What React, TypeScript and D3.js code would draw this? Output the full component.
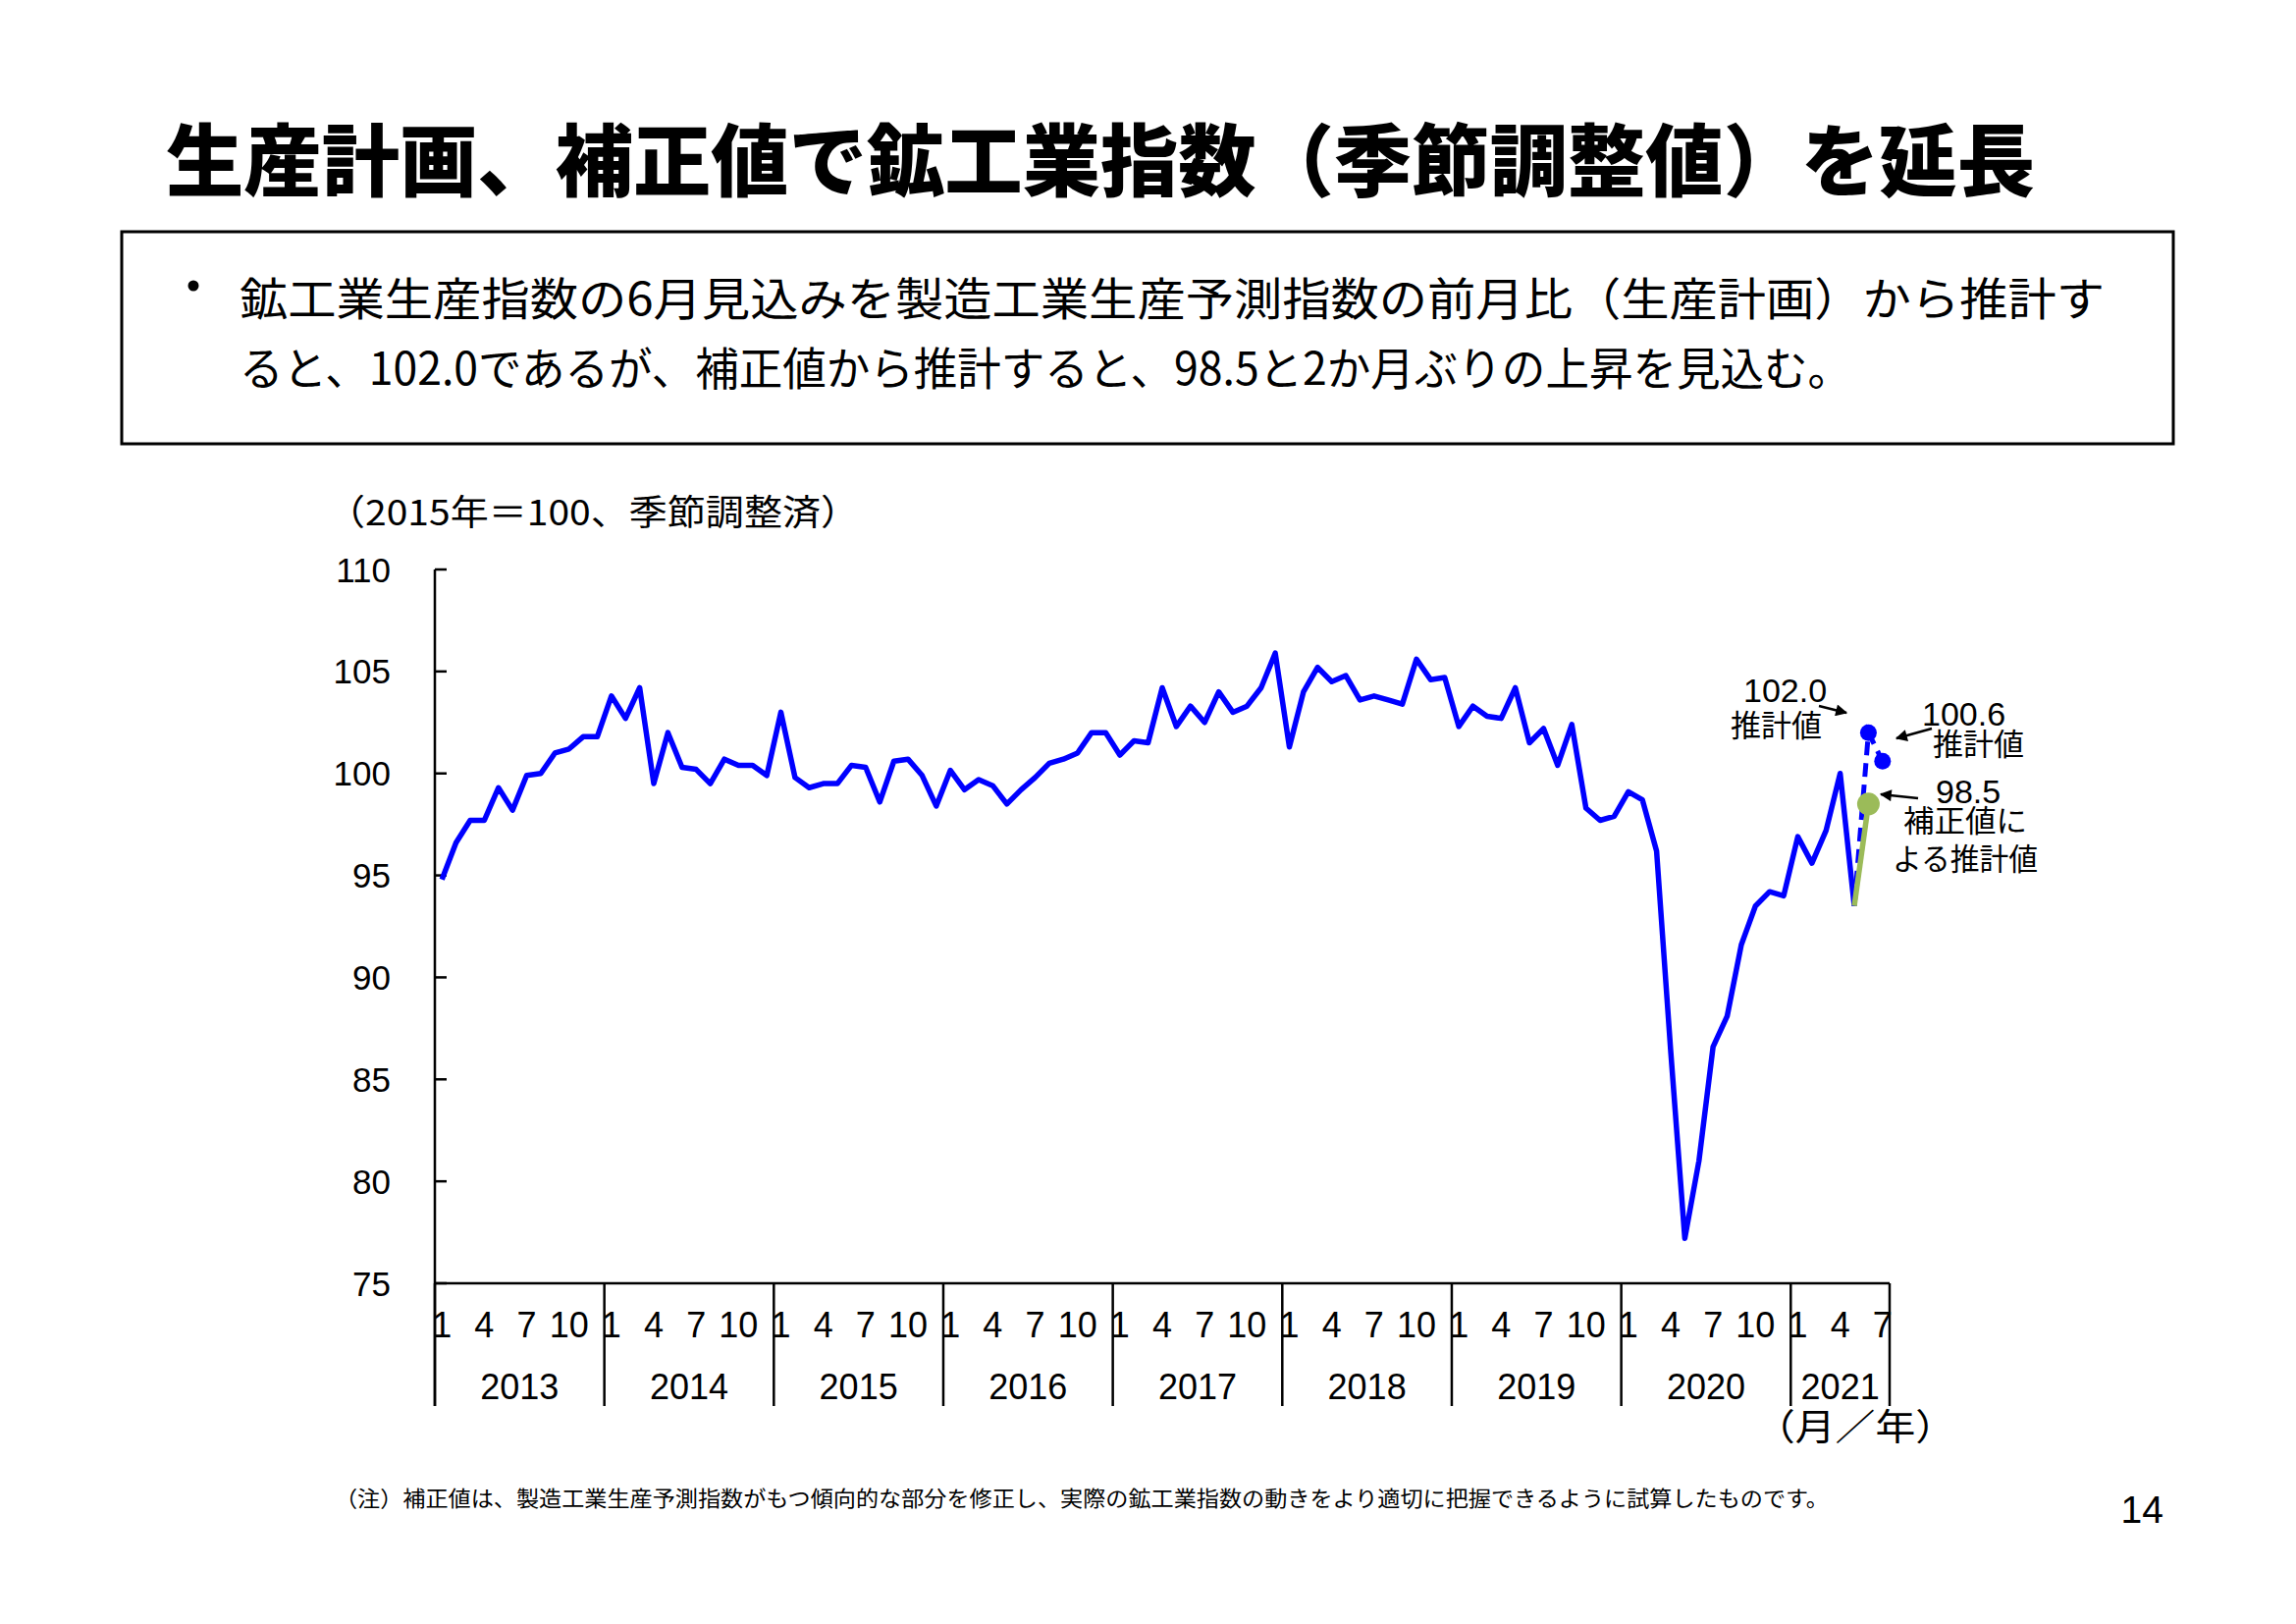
import React from 'react';
import * as d3 from 'd3';

// ---- data ----
const years = ['2013', '2014', '2015', '2016', '2017', '2018', '2019', '2020', '2021'];
const monthTicks = [1, 4, 7, 10];
const yTicks = [75, 80, 85, 90, 95, 100, 105, 110];
// Mining & manufacturing index (2015=100, s.a.), Jan 2013 – May 2021
const actual = [
  94.8, 96.6, 97.7, 97.7, 99.3, 98.2, 99.9, 100.0, 101.0, 101.2, 101.8, 101.8,
  103.8, 102.7, 104.2, 99.5, 102.0, 100.3, 100.2, 99.5, 100.7, 100.4, 100.4, 99.9,
  103.0, 99.8, 99.3, 99.5, 99.5, 100.4, 100.3, 98.6, 100.6, 100.7, 99.9, 98.4,
  100.15, 99.2, 99.7, 99.4, 98.5, 99.2, 99.8, 100.5, 100.7, 101.0, 102.0, 102.0,
  100.9, 101.6, 101.5, 104.2, 102.3, 103.3, 102.5, 104.0, 103.0, 103.3, 104.2, 105.9,
  101.3, 104.0, 105.2, 104.5, 104.8, 103.6, 103.8, 103.6, 103.4, 105.6, 104.6, 104.7,
  102.3, 103.3, 102.8, 102.7, 104.2, 101.5, 102.2, 100.4, 102.4, 98.3, 97.7, 97.9,
  99.1, 98.7, 96.2, 86.4, 77.2, 81.0, 86.6, 88.1, 91.6, 93.5, 94.2, 94.0,
  96.9, 95.6, 97.2, 100.0, 93.5,
];
// Estimates from production plan (Jun, Jul 2021)
const planEstimate = [102.0, 100.6];
// Estimate from corrected value (Jun 2021)
const correctedEstimate = [98.5];
const nMonths = 103; // Jan 2013 .. Jul 2021

const title = '生産計画、補正値で鉱工業指数（季節調整値）を延長';
const bodyLine1 = '鉱工業生産指数の6月見込みを製造工業生産予測指数の前月比（生産計画）から推計す';
const bodyLine2 = 'ると、102.0であるが、補正値から推計すると、98.5と2か月ぶりの上昇を見込む。';
const unitLabel = '（2015年＝100、季節調整済）';
const axisUnit = '（月／年）';
const note = '（注）補正値は、製造工業生産予測指数がもつ傾向的な部分を修正し、実際の鉱工業指数の動きをより適切に把握できるように試算したものです。';

const JP = "'Noto Sans CJK JP', 'Noto Sans', sans-serif";
const NUM = "'Liberation Sans', Arial, sans-serif";
const BLUE = '#0000FF';
const GREEN = '#9BBB59';

export default function App() {
  const W = 2339;
  const H = 1654;
  const x = d3.scaleLinear().domain([-0.5, nMonths - 0.5]).range([443, 1925]);
  const y = d3.scaleLinear().domain([75, 110]).range([1307, 580]);
  const line = d3
    .line<[number, number]>()
    .x((d) => x(d[0]))
    .y((d) => y(d[1]));

  const actualPts: [number, number][] = actual.map((v, i) => [i, v]);
  const last = actual.length - 1;
  const planPts: [number, number][] = [
    [last, actual[last]],
    ...planEstimate.map((v, k) => [last + 1 + k, v] as [number, number]),
  ];
  const corrPts: [number, number][] = [
    [last, actual[last]],
    ...correctedEstimate.map((v, k) => [last + 1 + k, v] as [number, number]),
  ];

  const dividers = years.map((_, k) => x(12 * k - 0.5)).concat([x(nMonths - 0.5)]);

  return (
    <svg
      width={W}
      height={H}
      viewBox={`0 0 ${W} ${H}`}
      style={{ position: 'absolute', left: 0, top: 0, background: '#fff' }}
    >
      <defs>
        <marker
          id="arrowHead"
          viewBox="0 0 10 10"
          refX={9}
          refY={5}
          markerUnits="userSpaceOnUse"
          markerWidth={16}
          markerHeight={12}
          orient="auto"
        >
          <path d="M0,0 L10,5 L0,10 z" fill="#000" />
        </marker>
      </defs>
      <rect x={0} y={0} width={W} height={H} fill="#fff" />

      {/* Title */}
      <text
        x={169}
        y={158}
        dominantBaseline="central"
        fontFamily={JP}
        fontWeight={900}
        fontSize={80}
        textLength={1904}
        lengthAdjust="spacingAndGlyphs"
        fill="#000"
      >
        {title}
      </text>

      {/* Text box */}
      <rect x={124} y={236} width={2090} height={216} fill="none" stroke="#000" strokeWidth={3} />
      <circle cx={197} cy={291} r={5.5} fill="#000" />
      <text
        x={244}
        y={301}
        dominantBaseline="central"
        fontFamily={JP}
        fontSize={46}
        textLength={1900}
        lengthAdjust="spacingAndGlyphs"
        fill="#000"
      >
        {bodyLine1}
      </text>
      <text
        x={244}
        y={372}
        dominantBaseline="central"
        fontFamily={JP}
        fontSize={46}
        textLength={1642}
        lengthAdjust="spacingAndGlyphs"
        fill="#000"
      >
        {bodyLine2}
      </text>

      {/* Unit label */}
      <text
        x={333}
        y={519}
        dominantBaseline="central"
        fontFamily={JP}
        fontSize={36}
        textLength={542}
        lengthAdjust="spacingAndGlyphs"
        fill="#000"
      >
        {unitLabel}
      </text>

      {/* Y axis */}
      <line x1={443} x2={443} y1={y(110)} y2={1432} stroke="#000" strokeWidth={2.5} />
      {yTicks.map((t) => (
        <g key={t}>
          <line x1={443} x2={455} y1={y(t)} y2={y(t)} stroke="#000" strokeWidth={2.5} />
          <text
            x={398}
            y={y(t)}
            textAnchor="end"
            dominantBaseline="central"
            fontFamily={NUM}
            fontSize={35}
            fill="#000"
          >
            {t}
          </text>
        </g>
      ))}

      {/* X axis */}
      <line x1={443} x2={x(nMonths - 0.5)} y1={y(75)} y2={y(75)} stroke="#000" strokeWidth={2.5} />
      {dividers.map((dx, k) => (
        <line key={k} x1={dx} x2={dx} y1={y(75)} y2={1432} stroke="#000" strokeWidth={2.5} />
      ))}
      {years.map((yr, k) =>
        monthTicks
          .filter((m) => 12 * k + m - 1 < nMonths)
          .map((m) => (
            <text
              key={`${yr}-${m}`}
              x={x(12 * k + m - 1)}
              y={1349}
              textAnchor="middle"
              dominantBaseline="central"
              fontFamily={NUM}
              fontSize={36}
              fill="#000"
            >
              {m}
            </text>
          ))
      )}
      {years.map((yr, k) => {
        const x0 = dividers[k];
        const x1 = dividers[k + 1];
        return (
          <text
            key={yr}
            x={(x0 + x1) / 2}
            y={1412}
            textAnchor="middle"
            dominantBaseline="central"
            fontFamily={NUM}
            fontSize={36}
            fill="#000"
          >
            {yr}
          </text>
        );
      })}
      <text
        x={1788}
        y={1451}
        dominantBaseline="central"
        fontFamily={JP}
        fontSize={37}
        textLength={204}
        lengthAdjust="spacingAndGlyphs"
        fill="#000"
      >
        {axisUnit}
      </text>

      {/* Series */}
      <path d={line(actualPts) || ''} fill="none" stroke={BLUE} strokeWidth={5.5} strokeLinejoin="round" />
      <path
        d={line(planPts) || ''}
        fill="none"
        stroke={BLUE}
        strokeWidth={5}
        strokeDasharray="14 8"
      />
      {planPts.slice(1).map((p, k) => (
        <circle key={k} cx={x(p[0])} cy={y(p[1])} r={8.5} fill={BLUE} />
      ))}
      <path d={line(corrPts) || ''} fill="none" stroke={GREEN} strokeWidth={5.5} />
      {corrPts.slice(1).map((p, k) => (
        <circle key={k} cx={x(p[0])} cy={y(p[1])} r={11.5} fill={GREEN} />
      ))}

      {/* Annotations */}
      <text x={1776} y={715} fontFamily={NUM} fontSize={34} fill="#000">
        {planEstimate[0].toFixed(1)}
      </text>
      <text x={1763} y={750} fontFamily={JP} fontSize={31} textLength={93} lengthAdjust="spacingAndGlyphs" fill="#000">
        推計値
      </text>
      <line x1={1853} y1={719} x2={1881} y2={726} stroke="#000" strokeWidth={2.5} markerEnd="url(#arrowHead)" />

      <text x={1958} y={739} fontFamily={NUM} fontSize={34} fill="#000">
        {planEstimate[1].toFixed(1)}
      </text>
      <text x={1969} y={769} fontFamily={JP} fontSize={31} textLength={93} lengthAdjust="spacingAndGlyphs" fill="#000">
        推計値
      </text>
      <line x1={1968} y1={742} x2={1932} y2={752} stroke="#000" strokeWidth={2.5} markerEnd="url(#arrowHead)" />

      <text x={1972} y={818} fontFamily={NUM} fontSize={34} fill="#000">
        {correctedEstimate[0].toFixed(1)}
      </text>
      <text x={1939} y={847} fontFamily={JP} fontSize={31} textLength={126} lengthAdjust="spacingAndGlyphs" fill="#000">
        補正値に
      </text>
      <text x={1928} y={886} fontFamily={JP} fontSize={31} textLength={148} lengthAdjust="spacingAndGlyphs" fill="#000">
        よる推計値
      </text>
      <line x1={1954} y1={813} x2={1916} y2={809} stroke="#000" strokeWidth={2.5} markerEnd="url(#arrowHead)" />

      {/* Note */}
      <text
        x={341}
        y={1524}
        dominantBaseline="central"
        fontFamily={JP}
        fontSize={22}
        textLength={1522}
        lengthAdjust="spacingAndGlyphs"
        fill="#000"
      >
        {note}
      </text>

      {/* Page number */}
      <text x={2204} y={1537} textAnchor="end" dominantBaseline="central" fontFamily={NUM} fontSize={39} fill="#000">
        14
      </text>
    </svg>
  );
}
